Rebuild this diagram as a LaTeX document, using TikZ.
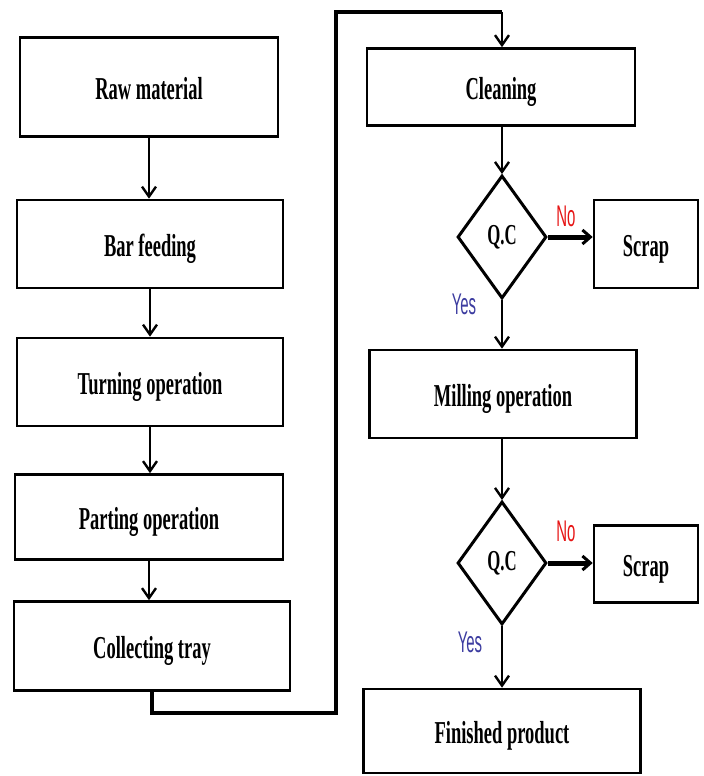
\documentclass[tikz,border=0pt]{standalone}
\usepackage{fontspec}
\setmainfont{Liberation Serif}[FakeStretch=0.58]
\newfontfamily\labfont{Liberation Sans}[FakeStretch=0.5]
\usetikzlibrary{arrows.meta,shapes.geometric}
\definecolor{nored}{RGB}{230,20,20}
\definecolor{yesblue}{RGB}{60,60,160}
\begin{document}
\begin{tikzpicture}[x=1bp,y=-1bp,
  box/.style={draw, line width=2.6bp, inner sep=0pt, text height=25bp, text depth=0bp, font=\fontsize{32}{33}\selectfont\bfseries},
  qc/.style={draw, diamond, line width=3bp, inner sep=0pt, minimum width=89bp, minimum height=123bp, aspect=0.72, font=\fontsize{29}{30}\selectfont\bfseries},
  flow/.style={line width=2.4bp, -{Straight Barb[length=10bp,width=14bp,line width=2.4bp]}},
  nobranch/.style={line width=5bp, -{Straight Barb[length=8bp,width=14bp,line width=3bp]}},
  lab/.style={font=\labfont\fontsize{30}{31}\selectfont, inner sep=0pt}]
\useasboundingbox (0,0) rectangle (704,776);
% left column
\node[box, minimum width=258bp, minimum height=99bp] (raw) at (149,87) {Raw material};
\node[box, minimum width=266bp, minimum height=88bp] (bar) at (150,244) {Bar feeding};
\node[box, minimum width=266bp, minimum height=88bp] (turn) at (150,382) {Turning operation};
\node[box, minimum width=268bp, minimum height=85bp] (part) at (149,517) {Parting operation};
\node[box, minimum width=276bp, minimum height=89bp] (coll) at (152,646) {Collecting tray};
% right column
\node[box, minimum width=268bp, minimum height=77bp] (clean) at (501,87) {Cleaning};
\node[qc] (qc1) at (502,237) {Q.C};
\node[box, minimum width=104bp, minimum height=88bp] (scrap1) at (646,244) {Scrap};
\node[box, minimum width=267bp, minimum height=88bp] (mill) at (503,394) {Milling operation};
\node[qc] (qc2) at (502,563) {Q.C};
\node[box, minimum width=104bp, minimum height=77bp] (scrap2) at (646,564) {Scrap};
\node[box, minimum width=277bp, minimum height=84bp] (fin) at (502,731) {Finished product};
% labels
\node[lab, text=nored] (no1) at (566,216) {No};
\node[lab, text=yesblue] (yes1) at (464,304) {Yes};
\node[lab, text=nored] (no2) at (566,531) {No};
\node[lab, text=yesblue] (yes2) at (470,642) {Yes};
% connectors
\draw[flow] (raw.south) -- (raw.south |- bar.north);
\draw[flow] (bar.south) -- (bar.south |- turn.north);
\draw[flow] (turn.south) -- (turn.south |- part.north);
\draw[flow] (part.south) -- (part.south |- coll.north);
\coordinate (loopA) at (336,713);
\coordinate (loopB) at (502,12);
\draw[line width=3.5bp] (coll.south) |- (loopA) |- (loopB);
\draw[flow] (loopB) -- (loopB |- clean.north);
\draw[flow] (clean.south -| qc1.north) -- (qc1.north);
\draw[nobranch] (qc1.east) -- (qc1.east -| scrap1.west);
\draw[flow] (qc1.south) -- (qc1.south |- mill.north);
\draw[flow] (mill.south -| qc2.north) -- (qc2.north);
\draw[nobranch] (qc2.east) -- (qc2.east -| scrap2.west);
\draw[flow] (qc2.south) -- (fin.north);
\end{tikzpicture}
\end{document}
